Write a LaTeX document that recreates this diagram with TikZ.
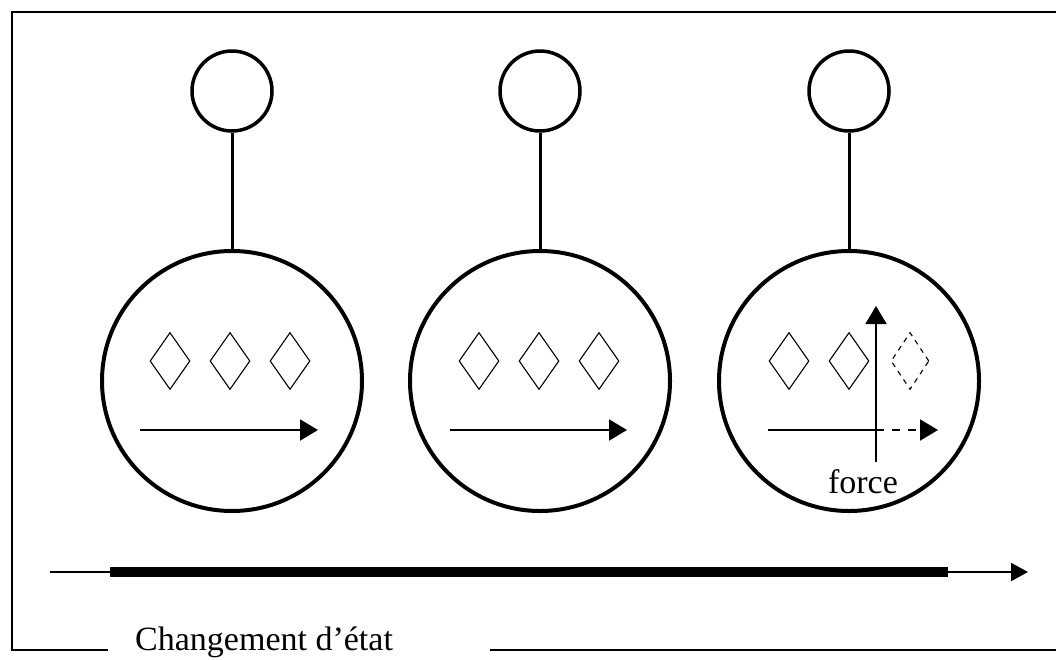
\documentclass[tikz,border=0pt]{standalone}
\usepackage{fontspec}
\setmainfont{Liberation Serif}
\usetikzlibrary{arrows.meta,shapes.geometric}
\begin{document}
\begin{tikzpicture}[x=1pt,y=-1pt,
  head/.style={circle,draw,line width=3.5pt,minimum size=80pt,inner sep=0pt},
  body/.style={circle,draw,line width=4pt,minimum size=260pt,inner sep=0pt},
  stem/.style={line width=3pt},
  gem/.style={diamond,draw,line width=1.1pt,minimum width=40pt,minimum height=57pt,inner sep=0pt},
  ghost/.style={gem,dash pattern=on 5pt off 5pt},
  flow/.style={line width=2pt,-{Triangle[length=18pt,width=21pt]}},
  frame/.style={line width=2pt},
  lbl/.style={font=\fontsize{34}{40}\selectfont,inner sep=0pt}
]
\useasboundingbox (0,0) rectangle (1056,659);
\fill[white] (0,0) rectangle (1056,659);
% frame
\draw[frame] (1056,12) -- (12,12) -- (12,650) -- (108,650);
\draw[frame] (490,650) -- (1056,650);
\node[lbl,anchor=base west] (title) at (135,650) {Changement d’état};
% figures
\foreach \i/\cx in {1/232,2/540,3/849}{
  \node[head] (h\i) at (\cx,91) {};
  \node[body] (b\i) at (\cx,381) {};
  \draw[stem] (h\i.south) -- (b\i.north);
}
% diamonds
\node[gem] (d11) at (170,361) {};
\node[gem] (d12) at (230,361) {};
\node[gem] (d13) at (290,361) {};
\node[gem] (d21) at (479,361) {};
\node[gem] (d22) at (539,361) {};
\node[gem] (d23) at (599,361) {};
\node[gem] (d31) at (789,361) {};
\node[gem] (d32) at (849,361) {};
\node[ghost,minimum width=38pt] (d33) at (910,361) {};
% arrows in circles
\coordinate (a1s) at (140,430); \coordinate (a1e) at (318,430);
\coordinate (a2s) at (450,430); \coordinate (a2e) at (627,430);
\draw[flow] (a1s) -- (a1e);
\draw[flow] (a2s) -- (a2e);
% third circle: force
\coordinate (a3s) at (768,430); \coordinate (a3m) at (876,430); \coordinate (a3e) at (938,430);
\coordinate (fb) at (876,462); \coordinate (ft) at (876,306);
\draw[line width=2pt] (a3s) -- (a3m);
\draw[flow,dash pattern=on 8pt off 8pt] (a3m) -- (a3e);
\draw[flow] (fb) -- (ft);
\node[lbl,anchor=base] (force) at (863,493) {force};
% time line
\coordinate (ts) at (50,572); \coordinate (te) at (1028,572);
\coordinate (bs) at (110,572); \coordinate (be) at (948,572);
\draw[line width=2pt,-{Triangle[length=17pt,width=18pt]}] (ts) -- (te);
\draw[line width=10pt] (bs) -- (be);
\end{tikzpicture}
\end{document}
